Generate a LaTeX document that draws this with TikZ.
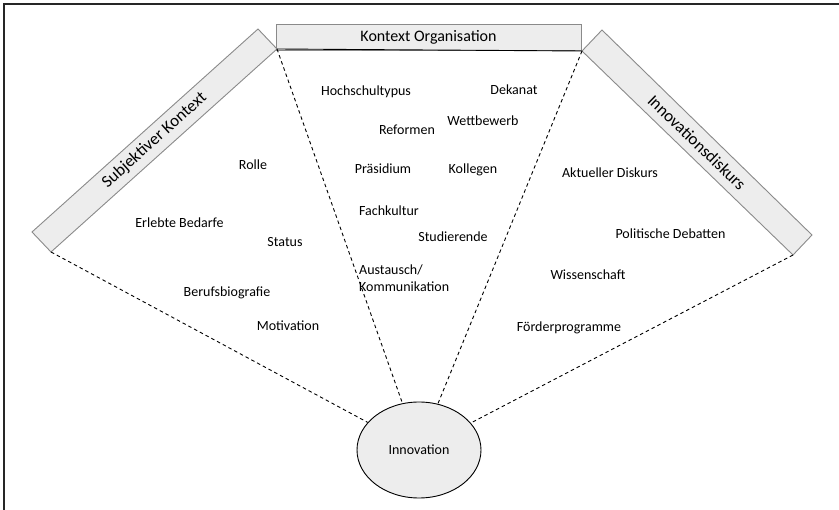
\documentclass[tikz,border=0pt]{standalone}
\usepackage{fontspec}
\setmainfont{Carlito}
\usetikzlibrary{shapes.geometric}
\definecolor{boxfill}{HTML}{EDEDED}
\definecolor{boxline}{HTML}{8A8A8A}
\begin{document}
\begin{tikzpicture}[x=1pt,y=-1pt,
  lbl/.style={font=\fontsize{14}{17}\selectfont, inner sep=0pt},
  barlbl/.style={font=\fontsize{16}{18}\selectfont, inner sep=0pt},
  rotlbl/.style={font=\fontsize{17}{19}\selectfont, inner sep=0pt},
  barshape/.style={fill=boxfill, draw=boxline, line width=0.9pt, line join=miter},
  conn/.style={draw=black, line width=0.9pt, dash pattern=on 3.5pt off 3pt}]
\useasboundingbox (0,0) rectangle (839,510);
% outer frame (only left and top visible)
\draw[line width=1.6pt, draw=black!85] (4,4) rectangle (860,530);

% top box
\node[barshape, draw=boxline, minimum width=305pt, minimum height=26pt, inner sep=0pt] (org) at (428.5,37) {};
\node[barlbl] (orgt) at (org.center) {Kontext Organisation};

% left bar
\coordinate (la) at (32,232);
\coordinate (lb) at (51,252);
\coordinate (lc) at (277,49);
\coordinate (ld) at (258,29);
\draw[barshape] (la) -- (lb) -- (lc) -- (ld) -- cycle;
\node[rotlbl, rotate=41.9] (subj) at (154.5,140.5) {Subjektiver Kontext};

% right bar
\coordinate (ra) at (582,51);
\coordinate (rb) at (602,30);
\coordinate (rc) at (812,235);
\coordinate (rd) at (793,255);
\draw[barshape] (ra) -- (rb) -- (rc) -- (rd) -- cycle;
\node[rotlbl, rotate=-44] (disk) at (697,142.5) {Innovationsdiskurs};

% bottom edge of top box
\draw[line width=0.9pt] (lc) -- (ra);

% innovation ellipse
\node[ellipse, fill=boxfill, draw=black, line width=0.9pt, minimum width=124pt, minimum height=96pt, inner sep=0pt, font=\fontsize{14}{17}\selectfont] (inno) at (419,450) {Innovation};

% dashed connectors
\draw[conn] (lb) -- (inno);
\draw[conn] (lc) -- (inno);
\draw[conn] (ra) -- (inno);
\draw[conn] (rd) -- (inno);

% labels: organisation
\node[lbl] (n1) at (366,92) {Hochschultypus};
\node[lbl] (n2) at (514,90) {Dekanat};
\node[lbl] (n3) at (407,130) {Reformen};
\node[lbl] (n4) at (483,121) {Wettbewerb};
\node[lbl] (n5) at (383,169) {Präsidium};
\node[lbl] (n6) at (473,170) {Kollegen};
\node[lbl] (n7) at (389,211) {Fachkultur};
\node[lbl] (n8) at (453,237) {Studierende};
\node[lbl, align=left, anchor=west] (n9) at (359,278) {Austausch/\\Kommunikation};
% labels: subjective
\node[lbl] (s1) at (253,165) {Rolle};
\node[lbl] (s2) at (179.5,223) {Erlebte Bedarfe};
\node[lbl] (s3) at (285,242) {Status};
\node[lbl] (s4) at (227,293) {Berufsbiografie};
\node[lbl] (s5) at (288,326) {Motivation};
% labels: discourse
\node[lbl] (d1) at (610,173) {Aktueller Diskurs};
\node[lbl] (d2) at (670.5,234) {Politische Debatten};
\node[lbl] (d3) at (588,275) {Wissenschaft};
\node[lbl] (d4) at (569,328) {Förderprogramme};
\end{tikzpicture}
\end{document}
